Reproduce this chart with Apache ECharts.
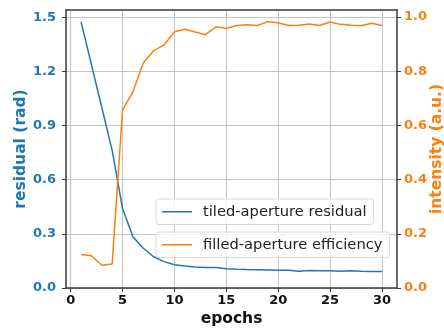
<!DOCTYPE html>
<html>
<head>
<meta charset="utf-8">
<script src="https://cdn.jsdelivr.net/npm/echarts@6/dist/echarts.min.js"></script>
<style>
html, body { margin: 0; padding: 0; background: #fff; }
#chart { width: 444px; height: 328px; }
</style>
</head>
<body>
<div id="chart"></div>
<script>
var epochs = [1, 2, 3, 4, 5, 6, 7, 8, 9, 10, 11, 12, 13, 14, 15, 16, 17, 18, 19, 20, 21, 22, 23, 24, 25, 26, 27, 28, 29, 30];
var residual = [1.474, 1.237, 1.0, 0.762, 0.44, 0.284, 0.22, 0.173, 0.146, 0.129, 0.122, 0.116, 0.113, 0.113, 0.107,
    0.104, 0.102, 0.101, 0.1, 0.098, 0.098, 0.093, 0.097, 0.096, 0.095, 0.093, 0.096, 0.093, 0.092, 0.092];
var efficiency = [0.124, 0.119, 0.084, 0.089, 0.657, 0.724, 0.831, 0.876, 0.897, 0.946, 0.955, 0.945, 0.935, 0.964, 0.958,
    0.969, 0.972, 0.969, 0.983, 0.979, 0.969, 0.970, 0.974, 0.969, 0.982, 0.973, 0.970, 0.968, 0.977, 0.969];
var xTicks = [0, 5, 10, 15, 20, 25, 30];
var leftTicks = [0, 0.3, 0.6, 0.9, 1.2, 1.5];
var rightTicks = [0, 0.2, 0.4, 0.6, 0.8, 1.0];

var blue = '#1f77b4', orange = '#ff7f0e';
var font = 'DejaVu Sans';
var frame = { show: true, onZero: false, lineStyle: { color: '#3a3a3a', width: 1.5 } };

function pairs(ys) {
    return epochs.map(function (e, i) { return [e, ys[i]]; });
}

function legendBox(name, top) {
    return {
        data: [name],
        left: 156,
        top: top,
        orient: 'vertical',
        icon: 'rect',
        itemWidth: 30,
        itemHeight: 1.5,
        padding: [5, 7, 5, 6],
        backgroundColor: 'rgba(255,255,255,0.8)',
        borderColor: '#d8d8d8',
        borderWidth: 1,
        borderRadius: 3,
        textStyle: { fontFamily: font, fontSize: 14.7, color: '#222', lineHeight: 15.5, padding: [0, 0, 0, 6] }
    };
}

echarts.init(document.getElementById('chart')).setOption({
    animation: false,
    textStyle: { fontFamily: font },
    grid: { left: 66, right: 47, top: 10, bottom: 40, containLabel: false, outerBoundsMode: 'none' },
    legend: [
        legendBox('tiled-aperture residual', 199),
        legendBox('filled-aperture efficiency', 232)
    ],
    xAxis: [{
        type: 'value',
        min: -0.45,
        max: 31.45,
        position: 'bottom',
        axisLine: frame,
        axisTick: { show: true, inside: false, length: 4, customValues: xTicks, lineStyle: { color: '#3a3a3a' } },
        axisLabel: {
            customValues: xTicks, margin: 6,
            fontFamily: font, fontSize: 13, fontWeight: 'bold', color: '#111'
        },
        splitLine: { show: true, lineStyle: { color: '#c4c4c4', width: 1 } },
        name: 'epochs',
        nameLocation: 'middle',
        nameGap: 23,
        nameMoveOverlap: false,
        nameTextStyle: { fontFamily: font, fontSize: 15.5, fontWeight: 'bold', color: '#111' }
    }, {
        type: 'value',
        min: -0.45,
        max: 31.45,
        position: 'top',
        axisLine: frame,
        axisTick: { show: false },
        axisLabel: { show: false },
        splitLine: { show: false }
    }],
    yAxis: [{
        type: 'value',
        min: 0,
        max: 1.54,
        position: 'left',
        axisLine: frame,
        axisTick: { show: true, inside: false, length: 4, customValues: leftTicks, lineStyle: { color: '#3a3a3a' } },
        axisLabel: {
            customValues: leftTicks, margin: 10,
            formatter: function (v) { return v.toFixed(1); },
            fontFamily: font, fontSize: 13, fontWeight: 'bold', color: blue
        },
        splitLine: { show: true, lineStyle: { color: '#c4c4c4', width: 1 } },
        name: 'residual (rad)',
        nameLocation: 'middle',
        nameGap: 37,
        nameMoveOverlap: false,
        nameTextStyle: { fontFamily: font, fontSize: 15.5, fontWeight: 'bold', color: blue }
    }, {
        type: 'value',
        min: 0,
        max: 1.026,
        position: 'right',
        axisLine: frame,
        axisTick: { show: true, inside: false, length: 4, customValues: rightTicks, lineStyle: { color: '#3a3a3a' } },
        axisLabel: {
            customValues: rightTicks, margin: 7,
            formatter: function (v) { return v.toFixed(1); },
            fontFamily: font, fontSize: 13, fontWeight: 'bold', color: orange
        },
        splitLine: { show: false },
        name: 'intensity (a.u.)',
        nameLocation: 'middle',
        nameGap: 32,
        nameMoveOverlap: false,
        nameTextStyle: { fontFamily: font, fontSize: 15.5, fontWeight: 'bold', color: orange }
    }],
    series: [{
        name: 'tiled-aperture residual',
        type: 'line',
        yAxisIndex: 0,
        showSymbol: false,
        color: blue,
        lineStyle: { width: 1.5, color: blue },
        data: pairs(residual)
    }, {
        name: 'filled-aperture efficiency',
        type: 'line',
        yAxisIndex: 1,
        showSymbol: false,
        color: orange,
        lineStyle: { width: 1.5, color: orange },
        data: pairs(efficiency)
    }]
});
</script>
</body>
</html>
